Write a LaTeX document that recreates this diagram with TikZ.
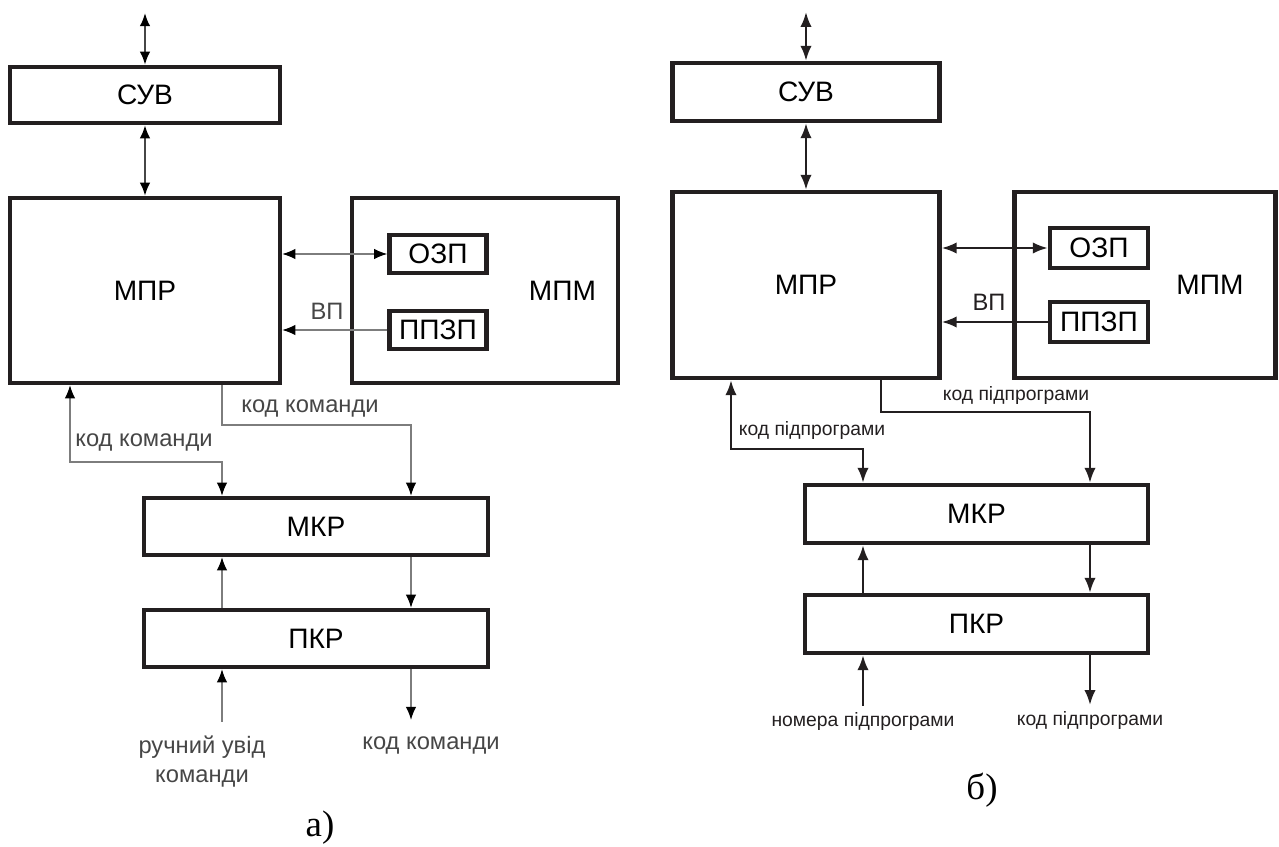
\documentclass[tikz,border=0pt]{standalone}
\usepackage{fontspec}
\setmainfont{Liberation Sans}
\newfontfamily\capfont{Liberation Serif}
\usepackage{tikz}
\usepackage{xcolor}
\usetikzlibrary{arrows.meta, positioning, calc}
\definecolor{cInk}{RGB}{35,31,32}
\definecolor{cGrey}{RGB}{125,125,125}
\definecolor{cDark}{RGB}{70,70,70}
\tikzset{
    blk/.style    ={rectangle, draw=cInk, line width=2.5pt, inner sep=0pt, text centered, font=\fontsize{16}{18}\selectfont},
    tagA/.style   ={font=\fontsize{13.5}{16}\selectfont, text=cDark, align=center, inner sep=0pt},
    tagB/.style   ={font=\fontsize{11}{13}\selectfont, text=cInk, align=center, inner sep=0pt},
    conA/.style   ={draw=cGrey, line width=0.85pt},
    busA/.style   ={draw=cDark, line width=1.1pt},
    conB/.style   ={draw=cInk, line width=1.4pt},
    tipA/.style   ={-{Latex[length=7.5pt, width=6pt, color=black]}},
    tipAA/.style  ={{Latex[length=7.5pt, width=6pt, color=black]}-{Latex[length=7.5pt, width=6pt, color=black]}},
    tipB/.style   ={-{Latex[length=8.5pt, width=6.5pt]}},
    tipBB/.style  ={{Latex[length=8.5pt, width=6.5pt]}-{Latex[length=8.5pt, width=6.5pt]}},
}

\begin{document}
\begin{tikzpicture}[x=0.02cm, y=-0.02cm]
    \useasboundingbox (0,0) rectangle (1279,847);
    % --- a) ---
    \node[blk, minimum width=5.4cm,  minimum height=1.12cm] (suvA)  at (145,95)    {СУВ};
    \node[blk, minimum width=5.4cm,  minimum height=3.7cm]  (mprA)  at (145,290.5) {МПР};
    \node[blk, minimum width=5.32cm, minimum height=3.7cm]  (mpmA)  at (485,290.5) {\hspace*{3.1cm}МПМ};
    \node[blk, minimum width=1.94cm, minimum height=0.76cm] (ozpA)  at (438,254)   {ОЗП};
    \node[blk, minimum width=1.94cm, minimum height=0.76cm] (ppzpA) at (438,330)   {ППЗП};
    \node[blk, minimum width=6.88cm, minimum height=1.14cm] (mkrA)  at (316,526.5) {МКР};
    \node[blk, minimum width=6.88cm, minimum height=1.14cm] (pkrA)  at (316,638.5) {ПКР};
    \coordinate (topA)   at (145,13);
    \coordinate (kinkA)  at (411,425);
    \coordinate (loopA)  at (70,462);
    \coordinate (inA)    at (222,722);
    \coordinate (outA)   at (411,720);
    \node[tagA] (vpA)    at (327,311) {ВП};
    \node[tagA] (kodA)   at (310,408) {код команди};
    \node[tagA] (kodA2)  at (144,442) {код команди};
    \node[tagA, below=0.28cm of inA, xshift=-0.4cm] (handA) {ручний увід\\команди};
    \node[tagA, below=0.32cm of outA, xshift=0.4cm] (kodA3) {код команди};
    \node[font=\capfont\fontsize{21}{24}\selectfont] (capA) at (320,828) {а)};
    \draw[busA, tipAA] (topA) -- (suvA);
    \draw[busA, tipAA] (suvA) -- (mprA);
    \draw[conA, tipAA] (mprA.east |- ozpA) -- (ozpA.west);
    \draw[conA, tipA]  (ppzpA.west) -- (mprA.east |- ppzpA);
    \draw[conA, tipA]  (mprA.south -| inA) |- (kinkA) -- (mkrA.north -| kinkA);
    \draw[conA, tipAA] (mprA.south -| loopA) -- (loopA) -| (mkrA.north -| inA);
    \draw[conA, tipA]  (pkrA.north -| inA) -- (mkrA.south -| inA);
    \draw[conA, tipA]  (mkrA.south -| kinkA) -- (pkrA.north -| kinkA);
    \draw[conA, tipA]  (inA) -- (pkrA.south -| inA);
    \draw[conA, tipA]  (pkrA.south -| outA) -- (outA);
    % --- b) ---
    \node[blk, minimum width=5.34cm, minimum height=1.16cm] (suvB)  at (806,92)    {СУВ};
    \node[blk, minimum width=5.34cm, minimum height=3.72cm] (mprB)  at (806,285)   {МПР};
    \node[blk, minimum width=5.22cm, minimum height=3.72cm] (mpmB)  at (1145,285)  {\hspace*{2.6cm}МПМ};
    \node[blk, minimum width=1.96cm, minimum height=0.8cm]  (ozpB)  at (1099,248)  {ОЗП};
    \node[blk, minimum width=1.96cm, minimum height=0.8cm]  (ppzpB) at (1099,322)  {ППЗП};
    \node[blk, minimum width=6.86cm, minimum height=1.16cm] (mkrB)  at (976.5,514) {МКР};
    \node[blk, minimum width=6.86cm, minimum height=1.16cm] (pkrB)  at (976.5,624) {ПКР};
    \coordinate (topB)   at (806,12);
    \coordinate (kinkB)  at (1090,412);
    \coordinate (dropB)  at (881,0);
    \coordinate (loopB)  at (731,449);
    \coordinate (inB)    at (863,706);
    \coordinate (outB)   at (1090,705);
    \node[tagA, text=cInk] (vpB) at (989,302) {ВП};
    \node[tagB] (kodB)   at (1016,396) {код підпрограми};
    \node[tagB] (kodB2)  at (812,431)  {код підпрограми};
    \node[tagB, below=0.12cm of inB]  (numB)  {номера підпрограми};
    \node[tagB, below=0.12cm of outB] (kodB3) {код підпрограми};
    \node[font=\capfont\fontsize{21}{24}\selectfont] (capB) at (982,790) {б)};
    \draw[conB, tipBB] (topB) -- (suvB);
    \draw[conB, tipBB] (suvB) -- (mprB);
    \draw[conB, tipBB] (mprB.east |- ozpB) -- (ozpB.west);
    \draw[conB, tipB]  (ppzpB.west) -- (mprB.east |- ppzpB);
    \draw[conB, tipB]  (mprB.south -| dropB) |- (kinkB) -- (mkrB.north -| kinkB);
    \draw[conB, tipBB] (mprB.south -| loopB) -- (loopB) -| (mkrB.north -| inB);
    \draw[conB, tipB]  (pkrB.north -| inB) -- (mkrB.south -| inB);
    \draw[conB, tipB]  (mkrB.south -| kinkB) -- (pkrB.north -| kinkB);
    \draw[conB, tipB]  (inB) -- (pkrB.south -| inB);
    \draw[conB, tipB]  (pkrB.south -| outB) -- (outB);
\end{tikzpicture}
\end{document}
